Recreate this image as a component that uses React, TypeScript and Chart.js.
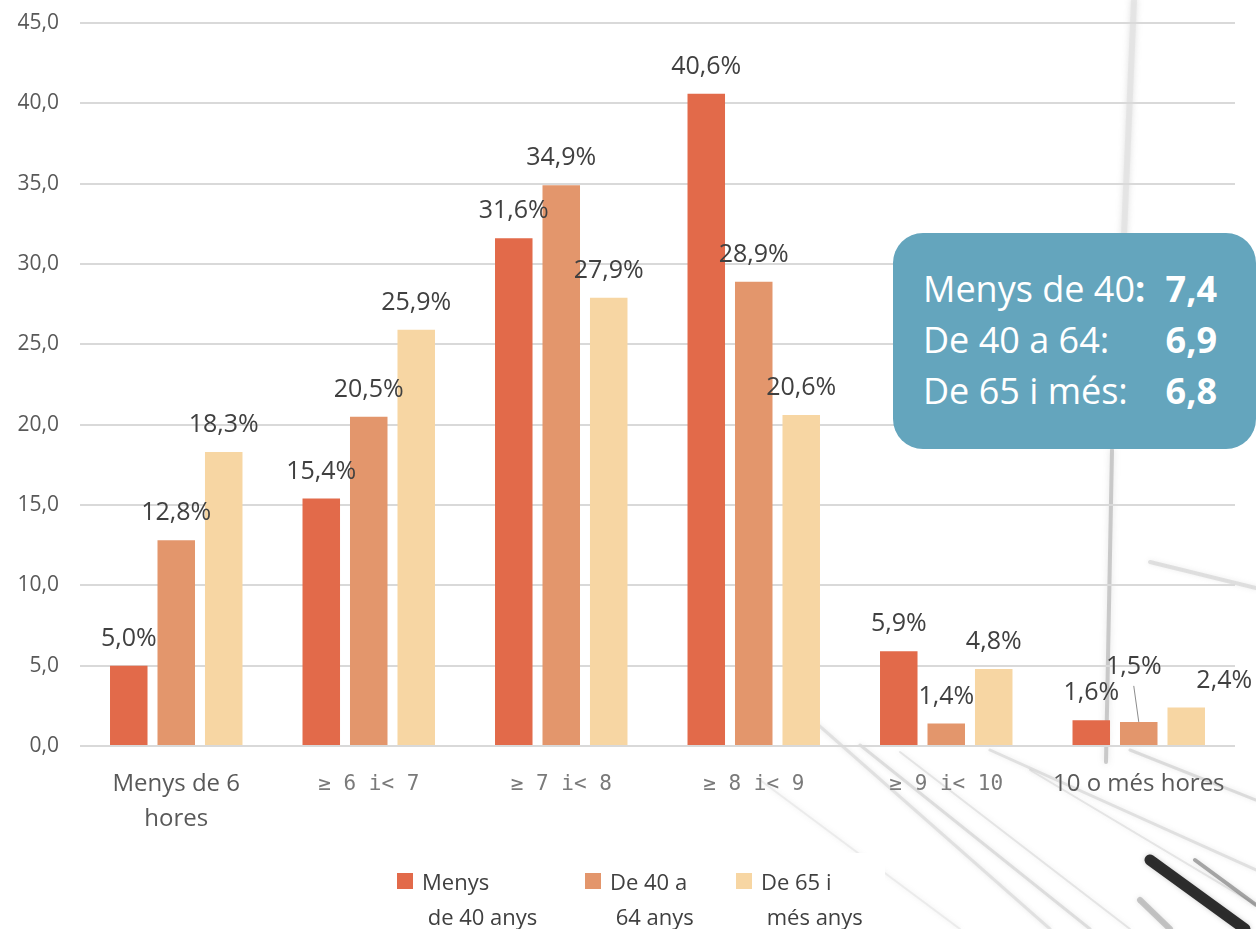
import React, { useEffect, useRef } from "react";
import { Chart, registerables } from "chart.js";

Chart.register(...registerables);

const categories: (string | string[])[] = [
  ["Menys de 6", "hores"],
  "≥ 6 i< 7",
  "≥ 7 i< 8",
  "≥ 8 i< 9",
  "≥ 9 i< 10",
  "10 o més hores",
];
const seriesNames: string[][] = [
  ["Menys", " de 40 anys"],
  ["De 40 a", " 64 anys"],
  ["De 65 i", " més anys"],
];
const menys40: number[] = [5.0, 15.4, 31.6, 40.6, 5.9, 1.6];
const de40a64: number[] = [12.8, 20.5, 34.9, 28.9, 1.4, 1.5];
const de65: number[] = [18.3, 25.9, 27.9, 20.6, 4.8, 2.4];
const seriesColors: string[] = ["#E26A4A", "#E3966C", "#F7D6A3"];
const yTicksMax = 45;
const yTicksStep = 5;

const summaryRows: { label: string; value: string }[] = [
  { label: "Menys de 40", value: "7,4" },
  { label: "De 40 a 64:", value: "6,9" },
  { label: "De 65 i més:", value: "6,8" },
];

const FONT = "'Open Sans', 'Noto Sans', sans-serif";
const MONO = "'DejaVu Sans Mono', 'Liberation Mono', monospace";
const fmt = (v: number, d = 1) => v.toFixed(d).replace(".", ",");

// label placement tweaks keyed by "dataset-index"
const labelTweaks: Record<string, { dx: number; dy: number; leader?: boolean }> = {
  "1-5": { dx: -5, dy: -28, leader: true },
  "2-5": { dx: 38, dy: 0 },
};

const bgArt = {
  id: "bgArt",
  beforeDraw(chart: any) {
    const { ctx, width, height } = chart;
    ctx.save();
    ctx.fillStyle = "#ffffff";
    ctx.fillRect(0, 0, width, height);
    ctx.lineCap = "round";
    ctx.shadowColor = "rgba(140,140,140,0.5)";
    ctx.shadowBlur = 6;
    ctx.strokeStyle = "rgba(222,222,222,0.55)";
    ctx.lineWidth = 6;
    ctx.beginPath();
    ctx.moveTo(1134, 0);
    ctx.lineTo(1124, 235);
    ctx.stroke();
    ctx.strokeStyle = "rgba(160,160,160,0.5)";
    ctx.lineWidth = 4;
    ctx.beginPath();
    ctx.moveTo(1112, 450);
    ctx.lineTo(1106, 762);
    ctx.stroke();
    const lines: [number, number, number, number, number, string][] = [
      [1150, 562, 1256, 588, 4, "rgba(170,170,170,0.3)"],
      [815, 722, 1050, 929, 3, "rgba(195,195,195,0.4)"],
      [860, 745, 1090, 929, 3, "rgba(185,185,185,0.4)"],
      [900, 752, 1130, 929, 2, "rgba(190,190,190,0.35)"],
      [760, 780, 960, 929, 2, "rgba(210,210,210,0.35)"],
      [990, 750, 1256, 870, 3, "rgba(180,180,180,0.35)"],
      [1030, 770, 1256, 905, 2, "rgba(190,190,190,0.35)"],
      [1130, 750, 1256, 800, 3, "rgba(170,170,170,0.35)"],
      [1150, 860, 1245, 929, 11, "rgba(25,25,25,0.9)"],
      [1195, 860, 1256, 905, 4, "rgba(90,90,90,0.5)"],
      [1140, 900, 1170, 929, 6, "rgba(140,140,140,0.45)"],
    ];
    ctx.shadowBlur = 5;
    for (const [x1, y1, x2, y2, w, c] of lines) {
      ctx.strokeStyle = c;
      ctx.lineWidth = w;
      ctx.beginPath();
      ctx.moveTo(x1, y1);
      ctx.lineTo(x2, y2);
      ctx.stroke();
    }
    ctx.shadowBlur = 0;
    ctx.fillStyle = "#ffffff";
    ctx.fillRect(385, 853, 500, 76);
    ctx.restore();
  },
};

const dataLabels = {
  id: "dataLabels",
  afterDatasetsDraw(chart: any) {
    const { ctx } = chart;
    ctx.save();
    ctx.font = `25px ${FONT}`;
    ctx.fillStyle = "#404040";
    ctx.textAlign = "center";
    ctx.textBaseline = "middle";
    chart.data.datasets.forEach((ds: any, di: number) => {
      const meta = chart.getDatasetMeta(di);
      meta.data.forEach((bar: any, i: number) => {
        const t = labelTweaks[`${di}-${i}`] || { dx: 0, dy: 0 };
        const x = bar.x + t.dx;
        const y = bar.y - 27 + t.dy;
        if (t.leader) {
          ctx.strokeStyle = "#8c8c8c";
          ctx.lineWidth = 1;
          ctx.beginPath();
          ctx.moveTo(x, y + 19);
          ctx.lineTo(bar.x, bar.y);
          ctx.stroke();
        }
        ctx.fillText(fmt(ds.data[i]) + "%", x, y);
      });
    });
    ctx.restore();
  },
};

const customLegend = {
  id: "customLegend",
  afterDraw(chart: any) {
    const { ctx } = chart;
    const xs = [397, 585, 736];
    ctx.save();
    ctx.font = `22px ${FONT}`;
    ctx.textBaseline = "alphabetic";
    chart.data.datasets.forEach((ds: any, i: number) => {
      const x = xs[i];
      ctx.fillStyle = ds.backgroundColor;
      ctx.fillRect(x, 873, 16, 16);
      ctx.fillStyle = "#404040";
      const lines: string[] = ds.legendLines;
      ctx.fillText(lines[0], x + 25, 890);
      ctx.fillText(lines[1], x + 25, 925);
    });
    ctx.restore();
  },
};

export default function App() {
  const ref = useRef<HTMLCanvasElement>(null);
  useEffect(() => {
    if (!ref.current) return;
    const series = [menys40, de40a64, de65];
    const chart = new Chart(ref.current, {
      type: "bar",
      data: {
        labels: categories,
        datasets: series.map((d, i) => ({
          label: seriesNames[i].join(""),
          legendLines: seriesNames[i],
          data: d,
          backgroundColor: seriesColors[i],
          borderWidth: 0,
          categoryPercentage: 0.74,
          barPercentage: 0.79,
        })) as any,
      },
      options: {
        responsive: false,
        animation: false,
        devicePixelRatio: 1,
        layout: { padding: { top: 23, right: 21, left: 0, bottom: 0 } },
        plugins: { legend: { display: false }, tooltip: { enabled: false } },
        scales: {
          y: {
            min: 0,
            max: yTicksMax,
            ticks: {
              stepSize: yTicksStep,
              callback: (v: any) => fmt(Number(v)),
              font: { family: FONT, size: 21 },
              color: "#595959",
              padding: 21,
            },
            grid: { color: "#d9d9d9", lineWidth: 2, drawTicks: false },
            border: { display: false },
            afterFit: (s: any) => {
              s.width = 80;
              s.paddingTop = 0;
              s.paddingBottom = 0;
            },
          },
          x: {
            grid: { display: false, drawTicks: false },
            border: { display: false },
            ticks: {
              padding: 21,
              font: (c: any) =>
                c.index === 0 || c.index === 5
                  ? { family: FONT, size: 24, lineHeight: "35px" }
                  : { family: MONO, size: 21, lineHeight: "35px" },
              color: (c: any) => (c.index === 0 || c.index === 5 ? "#595959" : "#7a7a7a"),
            },
            afterFit: (s: any) => {
              s.height = 183;
            },
          },
        },
      },
      plugins: [bgArt, dataLabels, customLegend],
    });
    return () => chart.destroy();
  }, []);

  return (
    <div style={{ position: "fixed", left: 0, top: 0, width: 1256, height: 929, overflow: "hidden", background: "#fff" }}>
      <canvas ref={ref} width={1256} height={929} style={{ position: "absolute", left: 0, top: 0 }} />
      <div
        style={{
          position: "absolute",
          left: 893,
          top: 233,
          width: 363,
          height: 216,
          boxSizing: "border-box",
          borderRadius: 30,
          background: "#64A5BD",
          color: "#ffffff",
          fontFamily: FONT,
          fontSize: 36,
          lineHeight: "51px",
          padding: "30px 39px 0 30px",
        }}
      >
        {summaryRows.map((r, i) => (
          <div key={i} style={{ display: "flex", justifyContent: "space-between", whiteSpace: "nowrap" }}>
            <span>
              {i === 0 ? (
                <>
                  {r.label}
                  <b>:</b>
                </>
              ) : (
                r.label
              )}
            </span>
            <b>{r.value}</b>
          </div>
        ))}
      </div>
    </div>
  );
}
